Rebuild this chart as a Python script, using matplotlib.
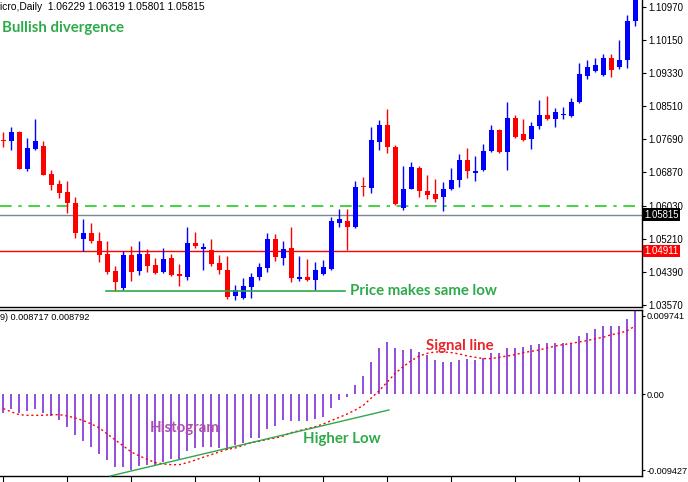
import matplotlib
matplotlib.use('Agg')
import matplotlib.pyplot as plt
import numpy as np

# ---------------- data ----------------
opens = [1.07668, 1.07643, 1.07866, 1.06948, 1.07444, 1.07519, 1.06824, 1.06575, 1.06377, 1.06104,
         1.05210, 1.05359, 1.05160, 1.04837, 1.04415, 1.03993, 1.04812, 1.04415, 1.04837, 1.04564,
         1.04390, 1.04738, 1.04341, 1.04266, 1.05110, 1.04961, 1.04937, 1.04614, 1.04440, 1.03794,
         1.03745, 1.04018, 1.04266, 1.04490, 1.05210, 1.04738, 1.04986, 1.04216, 1.04266, 1.04192,
         1.04341, 1.04465, 1.05607, 1.05657, 1.05508, 1.06526, 1.06476, 1.07618, 1.08040, 1.07494,
         1.05979, 1.06451, 1.06973, 1.06401, 1.06327, 1.06253, 1.06451, 1.06675, 1.07171, 1.06848,
         1.06923, 1.07395, 1.07916, 1.07370, 1.08214, 1.07817, 1.07693, 1.08015, 1.08289, 1.08189,
         1.08289, 1.08264, 1.08611, 1.09257, 1.09381, 1.09282, 1.09704, 1.09480, 1.09654, 1.10623]
highs = [1.07866, 1.07991, 1.07891, 1.07718, 1.08189, 1.07643, 1.06923, 1.06675, 1.06650, 1.06253,
         1.05706, 1.05607, 1.05383, 1.05160, 1.04539, 1.04912, 1.05036, 1.05160, 1.04961, 1.04738,
         1.04986, 1.04837, 1.04589, 1.05508, 1.05383, 1.05110, 1.05210, 1.04812, 1.04788, 1.04067,
         1.04241, 1.04365, 1.04614, 1.05359, 1.05334, 1.05160, 1.05508, 1.04788, 1.04713, 1.04639,
         1.04688, 1.05756, 1.05955, 1.05955, 1.06650, 1.06749, 1.07991, 1.08164, 1.08438, 1.07544,
         1.07022, 1.07122, 1.07022, 1.06799, 1.06699, 1.06625, 1.06973, 1.07320, 1.07469, 1.07271,
         1.07569, 1.08040, 1.07941, 1.08611, 1.08289, 1.08189, 1.08115, 1.08661, 1.08760, 1.08462,
         1.08487, 1.08711, 1.09580, 1.09654, 1.09704, 1.09803, 1.09803, 1.10151, 1.10772, 1.11392]
lows = [1.07494, 1.07420, 1.06948, 1.06898, 1.07420, 1.06799, 1.06426, 1.06228, 1.05855, 1.05235,
        1.04912, 1.05110, 1.04639, 1.04341, 1.03918, 1.03943, 1.04167, 1.04316, 1.04390, 1.04341,
        1.04365, 1.04291, 1.04043, 1.04192, 1.04986, 1.04440, 1.04539, 1.04341, 1.03720, 1.03695,
        1.03720, 1.03745, 1.04192, 1.04390, 1.04663, 1.04564, 1.04142, 1.04167, 1.04167, 1.03943,
        1.04316, 1.04440, 1.05508, 1.04937, 1.05483, 1.06277, 1.06352, 1.07420, 1.07345, 1.06054,
        1.05930, 1.06451, 1.06253, 1.06203, 1.06128, 1.05905, 1.06426, 1.06501, 1.06724, 1.06650,
        1.06898, 1.07370, 1.07345, 1.06923, 1.07718, 1.07643, 1.07444, 1.07941, 1.08164, 1.07991,
        1.08189, 1.08239, 1.08587, 1.09182, 1.09356, 1.09257, 1.09232, 1.09431, 1.09456, 1.10498]
closes = [1.07643, 1.07866, 1.06948, 1.07469, 1.07643, 1.06799, 1.06550, 1.06352, 1.06104, 1.05359,
          1.05359, 1.05160, 1.04812, 1.04390, 1.04142, 1.04812, 1.04390, 1.04837, 1.04539, 1.04365,
          1.04713, 1.04316, 1.04291, 1.05110, 1.05036, 1.05011, 1.04589, 1.04440, 1.03770, 1.03943,
          1.04043, 1.04266, 1.04514, 1.05210, 1.04763, 1.04961, 1.04241, 1.04266, 1.04192, 1.04440,
          1.04514, 1.05657, 1.05706, 1.05508, 1.06501, 1.06501, 1.07668, 1.08040, 1.07494, 1.06079,
          1.06451, 1.06997, 1.06401, 1.06302, 1.06203, 1.06451, 1.06675, 1.07171, 1.06898, 1.06898,
          1.07395, 1.07916, 1.07370, 1.08214, 1.07742, 1.07668, 1.08015, 1.08289, 1.08189, 1.08363,
          1.08313, 1.08611, 1.09307, 1.09480, 1.09530, 1.09704, 1.09406, 1.09654, 1.10623, 1.11268]

macd_hist = [-0.00236, -0.00186, -0.00228, -0.00211, -0.00178, -0.00228, -0.00269, -0.00319, -0.00402, -0.00501,
             -0.00584, -0.00650, -0.00741, -0.00816, -0.00898, -0.00898, -0.00940, -0.00890, -0.00882, -0.00874,
             -0.00840, -0.00807, -0.00807, -0.00708, -0.00667, -0.00658, -0.00658, -0.00667, -0.00691, -0.00633,
             -0.00600, -0.00542, -0.00542, -0.00426, -0.00393, -0.00319, -0.00327, -0.00327, -0.00327, -0.00311,
             -0.00286, -0.00170, -0.00070, -0.00029, 0.00116, 0.00228, 0.00402, 0.00576, 0.00650, 0.00576,
             0.00551, 0.00559, 0.00526, 0.00484, 0.00426, 0.00402, 0.00402, 0.00426, 0.00435, 0.00426,
             0.00451, 0.00509, 0.00518, 0.00576, 0.00576, 0.00592, 0.00617, 0.00625, 0.00633, 0.00633,
             0.00633, 0.00642, 0.00725, 0.00766, 0.00807, 0.00849, 0.00849, 0.00849, 0.00932, 0.01031]
macd_signal = [-0.00178, -0.00219, -0.00253, -0.00261, -0.00261, -0.00261, -0.00253, -0.00253, -0.00269, -0.00294,
               -0.00327, -0.00368, -0.00418, -0.00493, -0.00567, -0.00642, -0.00716, -0.00766, -0.00807, -0.00849,
               -0.00865, -0.00874, -0.00874, -0.00849, -0.00816, -0.00782, -0.00749, -0.00716, -0.00683, -0.00667,
               -0.00633, -0.00600, -0.00584, -0.00559, -0.00542, -0.00518, -0.00476, -0.00451, -0.00426, -0.00402,
               -0.00368, -0.00327, -0.00286, -0.00244, -0.00195, -0.00137, -0.00046, 0.00046, 0.00153, 0.00261,
               0.00344, 0.00418, 0.00476, 0.00509, 0.00526, 0.00526, 0.00518, 0.00501, 0.00476, 0.00460,
               0.00443, 0.00443, 0.00460, 0.00476, 0.00493, 0.00518, 0.00534, 0.00551, 0.00575, 0.00600,
               0.00617, 0.00633, 0.00650, 0.00667, 0.00691, 0.00708, 0.00741, 0.00758, 0.00791, 0.00849]

price_ticks = [1.10970, 1.10150, 1.09330, 1.08510, 1.07690, 1.06870, 1.06030, 1.05210, 1.04390, 1.03570]
price_tick_labels = ['1.10970', '1.10150', '1.09330', '1.08510', '1.07690', '1.06870', '1.06030',
                     '1.05210', '1.04390', '1.03570']
macd_ticks = [0.009741, 0.0, -0.009427]
macd_tick_labels = ['0.009741', '0.00', '-0.009427']

bid_price = 1.05815
red_level = 1.04911
green_level = 1.06030
same_low_x = [12.84, 42.7]
same_low_y = [1.03911, 1.03911]
higher_low_x = [13.34, 48.2]
higher_low_y = [-0.01015, -0.00195]

header_main = "icro,Daily  1.06229 1.06319 1.05801 1.05815"
header_macd = "9) 0.008717 0.008792"

# ---------------- figure ----------------
W, H = 688, 482
fig = plt.figure(figsize=(W / 100, H / 100), dpi=100)
fig.patch.set_facecolor('white')

def fy(py):
    return 1 - py / H

axR = 642
ax = fig.add_axes([0, fy(307), axR / W, 307 / H])
ax2 = fig.add_axes([0, fy(476), axR / W, (476 - 309.5) / H])

n = len(opens)
x = np.arange(n)
UP = '#0000ff'
DN = '#ff0000'
o = np.array(opens); c = np.array(closes); h = np.array(highs); l = np.array(lows)
cols = [UP if cc >= oo else DN for oo, cc in zip(o, c)]

# level lines
ax.axhline(green_level, color='#22cc22', lw=1.2, dashes=(7, 4, 2, 4), zorder=1)
ax.axhline(bid_price, color='#7a8694', lw=1.0, zorder=1)
ax.axhline(red_level, color='#ff0000', lw=1.0, zorder=1)

ax.vlines(x, l, h, colors=cols, lw=1.0, zorder=3)
body_h = np.maximum(np.abs(c - o), 0.00022)
ax.bar(x, body_h, bottom=np.minimum(o, c), width=0.625, color=cols, edgecolor='none', zorder=4)

ax.plot(same_low_x, same_low_y, color='#2ea84a', lw=1.2, zorder=5)

ax.set_xlim((0 - 3.3) / 8, (axR - 3.3) / 8)
ax.set_ylim(1.11144 - 0.0002483 * 307, 1.11144)
ax.yaxis.tick_right()
ax.set_yticks(price_ticks)
ax.set_yticklabels(price_tick_labels)
ax.set_xticks([])
for s in ['left', 'top']:
    ax.spines[s].set_visible(False)
for s in ['right', 'bottom']:
    ax.spines[s].set_color('black')
    ax.spines[s].set_linewidth(1.0)

FS = 6.9
ax.tick_params(axis='y', length=3, width=0.8, pad=1.5, colors='black')
for t in ax.get_yticklabels():
    t.set_fontfamily('Liberation Sans'); t.set_fontsize(FS)

# price labels on scale
for val, bg in [(bid_price, 'black'), (red_level, '#ff0000')]:
    ax.text(1.004, val, f"{val:.5f}", transform=ax.get_yaxis_transform(), ha='left', va='center',
            color='white', fontsize=FS, family='Liberation Sans', zorder=10, clip_on=False,
            bbox=dict(boxstyle='square,pad=0.12', fc=bg, ec='none'))

# ---------------- MACD panel ----------------
ax2.vlines(x, 0, macd_hist, colors='#8a3fd6', lw=1.3, zorder=2)
ax2.plot(x, macd_signal, color='#ff0000', lw=1.0, dashes=(1.5, 2), zorder=3)
ax2.plot(higher_low_x, higher_low_y, color='#2ea84a', lw=1.0, zorder=4, clip_on=False)
ax2.set_xlim((0 - 3.3) / 8, (axR - 3.3) / 8)
ax2.set_ylim(-(476 - 394.3) * 0.0001242, (394.3 - 309.5) * 0.0001242)
ax2.yaxis.tick_right()
ax2.set_yticks(macd_ticks)
ax2.set_yticklabels(macd_tick_labels)
ax2.set_xticks(np.arange(0, n, 8))
ax2.set_xticklabels([])
ax2.tick_params(axis='x', length=4, width=0.8, direction='out')
ax2.tick_params(axis='y', length=2.5, width=0.8, pad=1)
for t in ax2.get_yticklabels():
    t.set_fontfamily('Liberation Sans'); t.set_fontsize(6.6)
ax2.spines['left'].set_visible(False)
for s in ['right', 'bottom', 'top']:
    ax2.spines[s].set_color('black')
    ax2.spines[s].set_linewidth(1.0)

# ---------------- texts ----------------
fig.text(0, fy(7), header_main, ha='left', va='center', fontsize=7.4, family='Liberation Sans', color='black')
fig.text(0, fy(318), header_macd, ha='left', va='center', fontsize=6.6, family='Liberation Sans', color='black')
fig.text(2 / W, fy(28), "Bullish divergence", ha='left', va='center', fontsize=10.8,
         family='Lato', weight='bold', color='#2eaa4a')
ax.text(43.3, 1.0392, "Price makes same low", ha='left', va='center', fontsize=10.8,
        family='Lato', weight='bold', color='#2eaa4a', zorder=6)
ax2.text(52.8, 0.0060, "Signal line", ha='left', va='center', fontsize=10.8,
         family='Lato', weight='bold', color='#e8262a', zorder=6)
ax2.text(18.3, -0.00419, "Histogram", ha='left', va='center', fontsize=10.8,
         family='Lato', weight='bold', color='#b050b0', zorder=6)
ax2.text(37.5, -0.00555, "Higher Low", ha='left', va='center', fontsize=10.8,
         family='Lato', weight='bold', color='#2eaa4a', zorder=6)

fig.savefig('out.png', dpi=100, facecolor='white')
